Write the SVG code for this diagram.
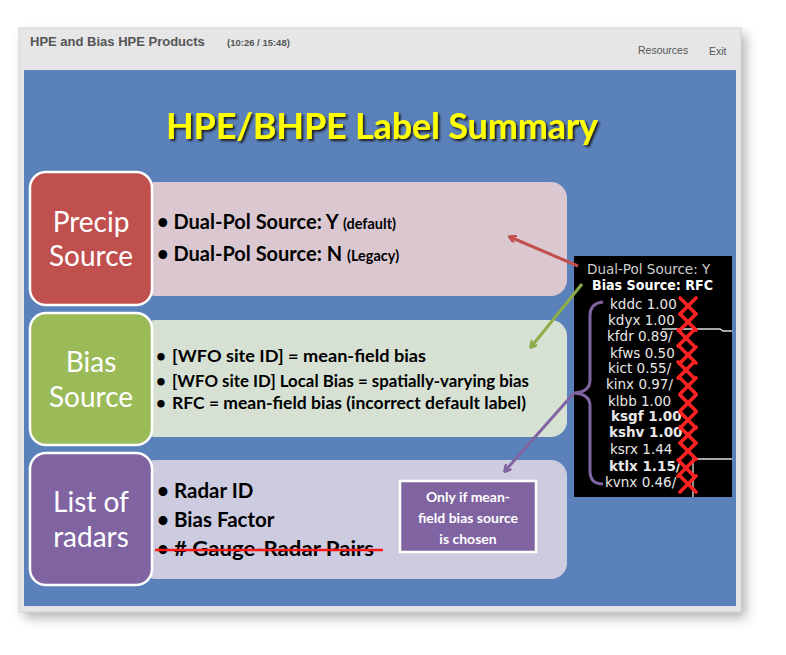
<svg xmlns="http://www.w3.org/2000/svg" width="786" height="655" viewBox="0 0 786 655">
<defs>
<style>
.hdr{font-family:"Liberation Sans",Arial,sans-serif;fill:#555;}
.side{font-family:Lato,"Open Sans",sans-serif;fill:#fff;font-size:28px;text-anchor:middle;}
.bul{font-family:Lato,"Open Sans",sans-serif;fill:#000;font-weight:bold;}
.wt{fill:#fff;}
.mono{font-family:"DejaVu Sans",Verdana,sans-serif;font-size:13.5px;fill:#e8e8e8;}
.xm{stroke:#ff2222;stroke-width:3.6;stroke-linecap:round;fill:none;}
.box{stroke:#fff;stroke-width:2.5;}
.conn{fill:none;stroke-width:3;}
</style>
<filter id="sh" x="-10%" y="-10%" width="120%" height="120%"><feGaussianBlur stdDeviation="6"/></filter>
<filter id="tsh" x="-5%" y="-20%" width="110%" height="140%"><feDropShadow dx="2" dy="2" stdDeviation="0.8" flood-color="#1a1a1a" flood-opacity="1"/></filter>
<marker id="ar" markerWidth="8" markerHeight="8" refX="6" refY="4" orient="auto" markerUnits="userSpaceOnUse"><path d="M0,0 L7,4 L0,8" fill="none" stroke="#c0504d" stroke-width="2.5"/></marker>
<marker id="ag" markerWidth="8" markerHeight="8" refX="6" refY="4" orient="auto" markerUnits="userSpaceOnUse"><path d="M0,0 L7,4 L0,8" fill="none" stroke="#8cad4a" stroke-width="2.5"/></marker>
<marker id="ap" markerWidth="8" markerHeight="8" refX="6" refY="4" orient="auto" markerUnits="userSpaceOnUse"><path d="M0,0 L7,4 L0,8" fill="none" stroke="#8064a2" stroke-width="2.5"/></marker>
</defs>
<rect width="786" height="655" fill="#fff"/>
<!-- frame -->
<rect x="24" y="34" width="722" height="584" fill="#777" opacity="0.55" filter="url(#sh)"/>
<rect x="19" y="28" width="722" height="584" fill="#e6e6e6" stroke="#d4d4d4"/>
<text class="hdr" x="30" y="46" font-size="13" font-weight="bold">HPE and Bias HPE Products</text>
<text class="hdr" x="227" y="46" font-size="9.5" font-weight="bold">(10:26 / 15:48)</text>
<text class="hdr" x="638" y="54" font-size="10.5" fill="#444">Resources</text>
<text class="hdr" x="709" y="55" font-size="10.5" fill="#444">Exit</text>
<rect x="24" y="70" width="712" height="536" fill="#5b81bb"/>
<!-- title -->
<text x="382" y="139" font-family="Lato,'Open Sans',sans-serif" font-weight="bold" font-size="36" fill="#ffff00" text-anchor="middle" textLength="432" filter="url(#tsh)">HPE/BHPE Label Summary</text>

<g id="precip">
<rect x="140" y="182" width="427" height="114" rx="16" fill="#dbc7d0"/>
<rect class="box" x="30" y="172" width="122" height="133" rx="16" fill="#c0504d"/>
<text class="side" x="91" y="232">Precip</text>
<text class="side" x="91" y="266">Source</text>
<text class="bul" x="157" y="229" font-size="20">• <tspan>Dual-Pol Source: Y</tspan> <tspan font-size="14.5">(default)</tspan></text>
<text class="bul" x="157" y="261" font-size="20">• <tspan>Dual-Pol Source: N</tspan> <tspan font-size="14.5">(Legacy)</tspan></text>
</g>

<g id="bias">
<rect x="140" y="320" width="427" height="117" rx="16" fill="#d6e1d4"/>
<rect class="box" x="30" y="313" width="122" height="132" rx="16" fill="#9bbb59"/>
<text class="side" x="91" y="372">Bias</text>
<text class="side" x="91" y="407">Source</text>
<text class="bul" x="156" y="362" font-size="17">• <tspan x="172" textLength="254" lengthAdjust="spacingAndGlyphs">[WFO site ID] = mean-field bias</tspan></text>
<text class="bul" x="156" y="387" font-size="17">• <tspan x="172" textLength="357" lengthAdjust="spacingAndGlyphs">[WFO site ID] Local Bias = spatially-varying bias</tspan></text>
<text class="bul" x="156" y="409" font-size="17">• <tspan x="172" textLength="354" lengthAdjust="spacingAndGlyphs">RFC = mean-field bias (incorrect default label)</tspan></text>
</g>

<g id="radars">
<rect x="140" y="460" width="427" height="119" rx="16" fill="#cdcbe0"/>
<rect class="box" x="30" y="453" width="122" height="132" rx="16" fill="#8064a2"/>
<text class="side" x="91" y="512">List of</text>
<text class="side" x="91" y="547">radars</text>
<text class="bul" x="157" y="498" font-size="20.5">• <tspan x="174">Radar ID</tspan></text>
<text class="bul" x="157" y="527" font-size="20.5">• <tspan x="174">Bias Factor</tspan></text>
<text class="bul" x="157" y="556" font-size="20.5">• <tspan x="174" textLength="200" lengthAdjust="spacingAndGlyphs"># Gauge-Radar Pairs</tspan></text>
<line x1="155" y1="550" x2="383" y2="550" stroke="#ff1a1a" stroke-width="2.5"/>
</g>

<g id="callout">
<rect x="400" y="481" width="136" height="71" fill="#8064a2" stroke="#fff" stroke-width="2.5"/>
<text class="bul wt" x="468" y="502" font-size="14" text-anchor="middle">Only if mean-</text>
<text class="bul wt" x="468" y="523" font-size="14" text-anchor="middle">field bias source</text>
<text class="bul wt" x="468" y="544" font-size="14" text-anchor="middle">is chosen</text>
</g>

<g id="panel">
<rect x="574" y="256" width="158" height="241" fill="#000"/>
<path d="M662,329 H720 L723,331 H732 M693,497 V459 H732" fill="none" stroke="#ddd" stroke-width="1.3"/>
<text class="mono" x="587" y="274" style="fill:#cfcfcf">Dual-Pol Source: Y</text>
<text class="mono" x="592" y="290" font-weight="bold" font-size="12.5" textLength="121" lengthAdjust="spacingAndGlyphs" style="fill:#fff">Bias Source: RFC</text>
<text class="mono" x="610" y="309">kddc 1.00</text>
<text class="mono" x="608" y="325">kdyx 1.00</text>
<text class="mono" x="607" y="341">kfdr 0.89/</text>
<text class="mono" x="610" y="358">kfws 0.50</text>
<text class="mono" x="608" y="373">kict 0.55/</text>
<text class="mono" x="606" y="389">kinx 0.97/</text>
<text class="mono" x="608" y="406">klbb 1.00</text>
<text class="mono" x="611" y="421" font-weight="bold" font-size="12.5">ksgf 1.00</text>
<text class="mono" x="609" y="437" font-weight="bold" font-size="12.5">kshv 1.00</text>
<text class="mono" x="610" y="454">ksrx 1.44</text>
<text class="mono" x="609" y="471" font-weight="bold" font-size="12.5">ktlx 1.15/</text>
<text class="mono" x="605" y="487">kvnx 0.46/</text>
<g class="xm">
<path d="M680,298 L696,314 M696,298 L680,314"/>
<path d="M680,314 L696,330 M696,314 L680,330"/>
<path d="M678,330 L694,346 M694,330 L678,346"/>
<path d="M680,347 L696,363 M696,347 L680,363"/>
<path d="M678,362 L694,378 M694,362 L678,378"/>
<path d="M680,378 L696,394 M696,378 L680,394"/>
<path d="M680,395 L696,411 M696,395 L680,411"/>
<path d="M680,412 L696,428 M696,412 L680,428"/>
<path d="M680,427 L696,443 M696,427 L680,443"/>
<path d="M680,443 L696,459 M696,443 L680,459"/>
<path d="M678,460 L694,476 M694,460 L678,476"/>
<path d="M680,476 L696,492 M696,476 L680,492"/>
</g>
</g>

<g id="connectors">
<path class="conn" d="M603,302 Q590,303 590,316 V380 Q590,392 574,393 Q590,394 590,406 V471 Q590,484 603,484" stroke="#8064a2"/>
<line class="conn" x1="578" y1="266" x2="510" y2="237" stroke="#c0504d" marker-end="url(#ar)"/>
<line class="conn" x1="582" y1="284" x2="531" y2="347" stroke="#8cad4a" marker-end="url(#ag)"/>
<line class="conn" x1="574" y1="393" x2="505" y2="471" stroke="#8064a2" marker-end="url(#ap)"/>
</g>
</svg>
